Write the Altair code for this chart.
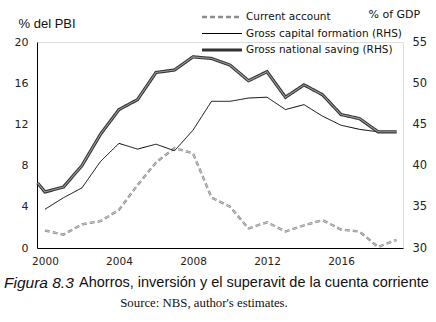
import altair as alt
import pandas as pd

# ---- data ----
ca_years = list(range(2000, 2020))
current_account = [1.7, 1.3, 2.3, 2.6, 3.7, 6.1, 8.3, 9.7, 9.2, 4.9,
                   4.0, 1.9, 2.5, 1.6, 2.2, 2.7, 1.8, 1.6, 0.1, 0.8]

gcf_years = list(range(2000, 2020))
gross_capital_formation = [34.7, 36.1, 37.3, 40.5, 42.7, 42.0, 42.6, 41.8, 44.3, 47.8,
                           47.8, 48.2, 48.3, 46.8, 47.4, 46.0, 44.9, 44.4, 44.1, 44.1]

sav_years = [1999.6] + list(range(2000, 2020))
gross_national_saving = [37.9, 36.8, 37.4, 40.0, 43.8, 46.8, 48.0, 51.3, 51.6, 53.2, 53.0,
                         52.2, 50.3, 51.4, 48.3, 49.8, 48.6, 46.2, 45.7, 44.1, 44.1]

series_names = ["Current account", "Gross capital formation (RHS)", "Gross national saving (RHS)"]
x_ticks = [2000, 2004, 2008, 2012, 2016]
left_ticks = [0, 4, 8, 12, 16, 20]
right_ticks = [30, 35, 40, 45, 50, 55]

df_left = pd.DataFrame({"year": ca_years, "value": current_account, "series": series_names[0]})
df_right = pd.concat([
    pd.DataFrame({"year": gcf_years, "value": gross_capital_formation, "series": series_names[1]}),
    pd.DataFrame({"year": sav_years, "value": gross_national_saving, "series": series_names[2]}),
])
df_sav = df_right[df_right["series"] == series_names[2]]
df_ca = df_left

W, H = 366, 206
TICK_FONT = "DejaVu Sans"

x_enc = alt.X("year:Q", scale=alt.Scale(domain=[1999.57, 2019.35], nice=False, zero=False),
              axis=alt.Axis(values=x_ticks, format="d", title=None, ticks=False, grid=False,
                            domainColor="#000", domainWidth=1, labelFont=TICK_FONT, labelFontSize=10.5,
                            labelColor="#222", labelPadding=8))

left_axis = alt.Axis(values=left_ticks, title="% del PBI", titleAngle=0, titleAlign="left",
                     titleBaseline="alphabetic", titleX=-19, titleY=-15, titleFont="Liberation Sans",
                     titleFontSize=13, titleFontWeight="normal", titleColor="#111",
                     ticks=False, grid=False, domainColor="#000", domainWidth=1,
                     labelFont=TICK_FONT, labelFontSize=11, labelColor="#222", labelPadding=9)
right_axis = alt.Axis(values=right_ticks, orient="right", title="% of GDP", titleAngle=0,
                      titleAlign="left", titleBaseline="alphabetic", titleX=-35, titleY=-25,
                      titleFont=TICK_FONT, titleFontSize=11, titleFontWeight="normal", titleColor="#111",
                      ticks=False, grid=False, domain=False,
                      labelFont=TICK_FONT, labelFontSize=11.5, labelColor="#222", labelPadding=9)

y_left = alt.Y("value:Q", scale=alt.Scale(domain=[0, 20], nice=False), axis=left_axis)
y_right = alt.Y("value:Q", scale=alt.Scale(domain=[30, 55], nice=False), axis=right_axis)

legend = alt.Legend(title=None, orient="none", legendX=163, legendY=-33, symbolType="stroke",
                    symbolSize=1600, clipHeight=16, rowPadding=0.5, padding=0, labelOffset=2,
                    labelFont=TICK_FONT, labelFontSize=10.5, labelColor="#111")

color = alt.Color("series:N", scale=alt.Scale(domain=series_names, range=["#8c8c8c", "#000000", "#333333"]),
                  legend=legend)
dash = alt.StrokeDash("series:N", scale=alt.Scale(domain=series_names, range=[[5, 3], [1, 0], [1, 0]]),
                      legend=legend)
swidth = alt.StrokeWidth("series:N", scale=alt.Scale(type="ordinal", domain=series_names,
                                                     range=[2.4, 1.0, 3.2]),
                         legend=legend)

ca_outer = alt.Chart(df_left).mark_line().encode(x=x_enc, y=y_left, color=color,
                                                 strokeDash=dash, strokeWidth=swidth)
ca_inner = alt.Chart(df_ca).mark_line(color="#d8d8d8", strokeWidth=0.8, strokeDash=[5, 3]).encode(
    x=x_enc, y=y_left)
left = alt.layer(ca_outer, ca_inner)

right_main = alt.Chart(df_right).mark_line().encode(x=x_enc, y=y_right, color=color,
                                                    strokeDash=dash, strokeWidth=swidth)
sav_inner = alt.Chart(df_sav).mark_line(color="#9a9a9a", strokeWidth=1.1).encode(x=x_enc, y=y_right)
right = alt.layer(right_main, sav_inner)

cap_df = pd.DataFrame({"t": ["Figura 8.3"]})
cap_italic = alt.Chart(cap_df).mark_text(font="Liberation Sans", fontSize=15.5, fontStyle="italic",
                                         align="left", baseline="middle", color="#111").encode(
    text="t:N", x=alt.value(-33), y=alt.value(241))
cap_main = alt.Chart(pd.DataFrame({"t": ["Ahorros, inversión y el superavit de la cuenta corriente"]})).mark_text(
    font="Liberation Sans", fontSize=14.5, align="left", baseline="middle", color="#111").encode(
    text="t:N", x=alt.value(42), y=alt.value(241))
source = alt.Chart(pd.DataFrame({"t": ["Source: NBS, author's estimates."]})).mark_text(
    font="Liberation Serif", fontSize=12.8, align="center", baseline="middle", color="#111").encode(
    text="t:N", x=alt.value(167), y=alt.value(261))

chart = alt.layer(left, right, cap_italic, cap_main, source).resolve_scale(y="independent").properties(
    width=W, height=H,
    autosize=alt.AutoSizeParams(type="none"),
    padding={"left": 37, "top": 42, "right": 33, "bottom": 74},
).configure_view(stroke=None).configure(background="white")

chart.save("out.html", embed_options={"renderer": "svg", "actions": False})
